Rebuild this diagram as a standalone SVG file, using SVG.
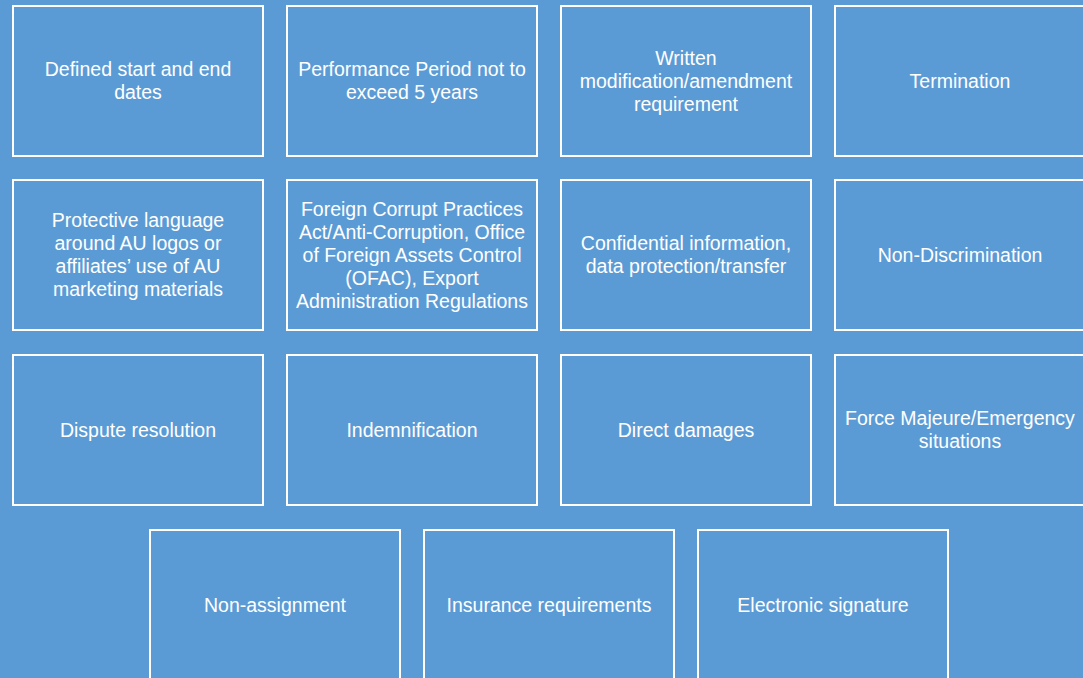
<svg xmlns="http://www.w3.org/2000/svg" width="1083" height="678" viewBox="0 0 1083 678">
<style>
.box{fill:#5B9BD5;stroke:#FFFFFF;stroke-width:2}
.t{fill:#FFFFFF;font-family:"Liberation Sans",Arial,sans-serif;font-size:19.5px;text-anchor:middle}
</style>
<rect x="0" y="0" width="1083" height="678" fill="#5B9BD5"/>
<g id="n1"><rect class="box" x="13" y="6" width="250" height="150"/><text class="t"><tspan x="138" y="76">Defined start and end</tspan><tspan x="138" y="99">dates</tspan></text></g>
<g id="n2"><rect class="box" x="287" y="6" width="250" height="150"/><text class="t"><tspan x="412" y="76">Performance Period not to</tspan><tspan x="412" y="99">exceed 5 years</tspan></text></g>
<g id="n3"><rect class="box" x="561" y="6" width="250" height="150"/><text class="t"><tspan x="686" y="64.5">Written</tspan><tspan x="686" y="87.5">modification/amendment</tspan><tspan x="686" y="110.5">requirement</tspan></text></g>
<g id="n4"><rect class="box" x="835" y="6" width="250" height="150"/><text class="t" x="960" y="87.5">Termination</text></g>
<g id="n5"><rect class="box" x="13" y="180" width="250" height="150"/><text class="t"><tspan x="138" y="227">Protective language</tspan><tspan x="138" y="250">around AU logos or</tspan><tspan x="138" y="273">affiliates’ use of AU</tspan><tspan x="138" y="296">marketing materials</tspan></text></g>
<g id="n6"><rect class="box" x="287" y="180" width="250" height="150"/><text class="t"><tspan x="412" y="215.5">Foreign Corrupt Practices</tspan><tspan x="412" y="238.5">Act/Anti-Corruption, Office</tspan><tspan x="412" y="261.5">of Foreign Assets Control</tspan><tspan x="412" y="284.5">(OFAC), Export</tspan><tspan x="412" y="307.5">Administration Regulations</tspan></text></g>
<g id="n7"><rect class="box" x="561" y="180" width="250" height="150"/><text class="t"><tspan x="686" y="250">Confidential information,</tspan><tspan x="686" y="273">data protection/transfer</tspan></text></g>
<g id="n8"><rect class="box" x="835" y="180" width="250" height="150"/><text class="t" x="960" y="261.5">Non-Discrimination</text></g>
<g id="n9"><rect class="box" x="13" y="355" width="250" height="150"/><text class="t" x="138" y="436.5">Dispute resolution</text></g>
<g id="n10"><rect class="box" x="287" y="355" width="250" height="150"/><text class="t" x="412" y="436.5">Indemnification</text></g>
<g id="n11"><rect class="box" x="561" y="355" width="250" height="150"/><text class="t" x="686" y="436.5">Direct damages</text></g>
<g id="n12"><rect class="box" x="835" y="355" width="250" height="150"/><text class="t"><tspan x="960" y="425">Force Majeure/Emergency</tspan><tspan x="960" y="448">situations</tspan></text></g>
<g id="n13"><rect class="box" x="150" y="530" width="250" height="150"/><text class="t" x="275" y="611.5">Non-assignment</text></g>
<g id="n14"><rect class="box" x="424" y="530" width="250" height="150"/><text class="t" x="549" y="611.5">Insurance requirements</text></g>
<g id="n15"><rect class="box" x="698" y="530" width="250" height="150"/><text class="t" x="823" y="611.5">Electronic signature</text></g>
<g id="connectors"></g>
</svg>
